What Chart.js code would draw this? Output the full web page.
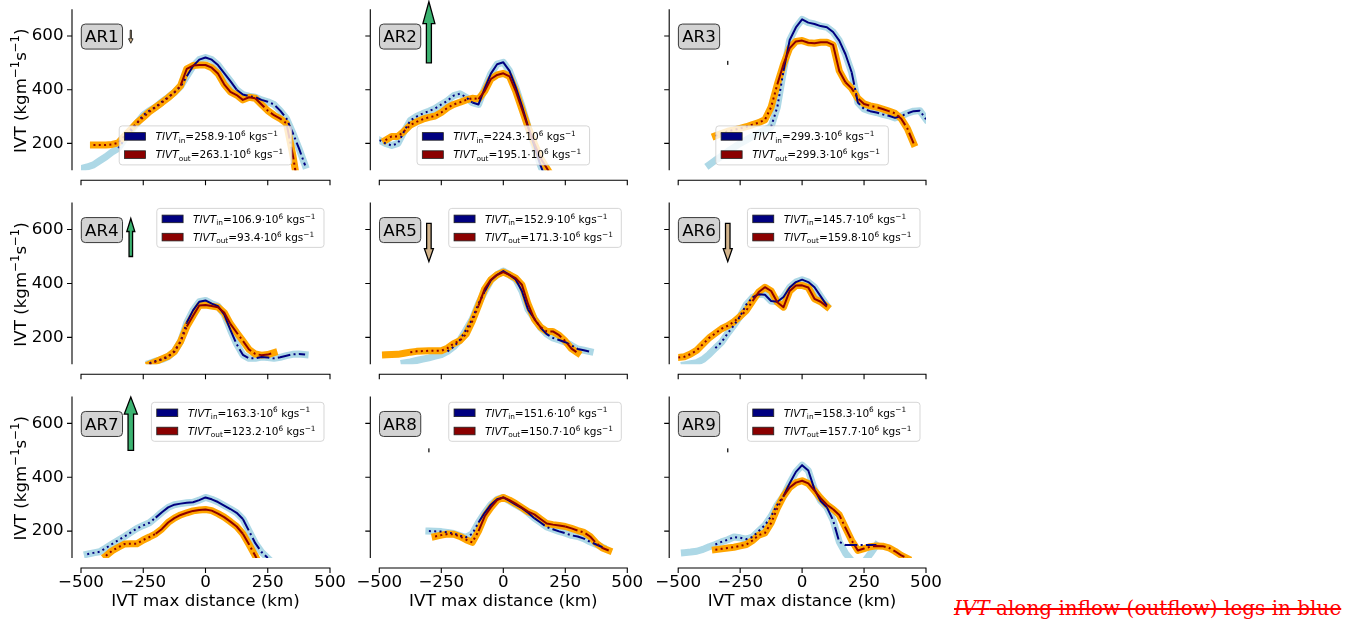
<!DOCTYPE html>
<html>
<head>
<meta charset="utf-8">
<script src="https://cdn.jsdelivr.net/npm/chart.js@4.4.1/dist/chart.umd.min.js"></script>
<style>
html,body{margin:0;padding:0;background:#fff;}
#wrap{position:relative;width:1356px;height:622px;overflow:hidden;background:#fff;}
#wrap canvas{position:absolute;left:0;top:0;}
#note{position:absolute;left:954px;top:598px;font-family:"DejaVu Serif";font-size:20px;line-height:20px;color:#ff0000;text-decoration:line-through;white-space:nowrap;}
</style>
</head>
<body>
<div id="wrap"><div id="note"><i>IVT</i> along inflow (outflow) legs in blue</div></div>
<script>
const _ = null;
// distance grid (km)
const dist = [-500,-475,-450,-425,-400,-375,-350,-325,-300,-275,-250,-225,-200,-175,-150,-125,-100,-75,-50,-25,0,25,50,75,100,125,150,175,200,225,250,275,300,325,350,375,400,425,450,475,500];
const xTicks = [-500,-250,0,250,500];
const xTickLabels = ['\u2212500','\u2212250','0','250','500'];
const yTicks = [200,400,600];
const yTickLabels = ['200','400','600'];
const arNames = ['AR1','AR2','AR3','AR4','AR5','AR6','AR7','AR8','AR9'];
const tivtIn  = [258.9,224.3,299.3,106.9,152.9,145.7,163.3,151.6,158.3];
const tivtOut = [263.1,195.1,299.3,93.4,171.3,159.8,123.2,150.7,157.7];
const arrowFrom = [622,500,500,500,623,623,500,500,500];
const arrowTo   = [573,728,500,641,481,481,698,500,500];

// IVT along inflow / outflow legs (kg m-1 s-1)
const ar1In  = [106,112,120,135,150,168,182,215,245,275,305,322,335,355,372,390,412,450,488,512,520,512,492,462,432,400,382,376,372,362,355,345,322,293,240,182,118,_,_,_,_];
const ar1Out = [_,_,194,194,194,196,202,228,252,277,297,318,335,352,370,390,415,478,490,492,492,482,460,420,392,380,362,372,368,345,322,305,292,275,160,20,_,_,_,_,_];
const ar2In  = [212,200,192,200,245,285,300,311,320,330,345,359,378,385,372,352,345,405,460,495,502,470,410,340,262,190,118,60,_,_,_,_,_,_,_,_,_,_,_,_,_];
const ar2Out = [_,212,226,226,245,268,280,290,297,302,315,333,345,353,362,368,365,395,440,455,461,450,395,328,260,200,145,108,70,_,_,_,_,_,_,_,_,_,_,_,_];
const ar3In  = [_,_,_,_,_,120,137,152,170,185,200,213,226,238,250,262,335,470,585,632,662,650,645,637,633,615,583,532,465,352,328,320,315,308,303,295,302,312,320,322,290];
const ar3Out = [_,_,_,_,_,_,228,237,245,250,256,262,270,277,288,335,420,495,555,580,583,575,573,577,577,567,470,428,405,368,347,340,335,328,320,312,292,255,200,_,_];
const ar4In  = [_,_,_,_,_,_,_,_,_,_,_,104,112,118,128,148,185,255,300,332,337,325,316,285,228,175,135,122,122,127,125,122,126,132,137,138,136,_,_,_,_];
const ar4Out = [_,_,_,_,_,_,_,_,_,_,_,100,110,120,130,147,185,240,280,318,320,316,312,292,250,218,187,155,138,134,136,143,_,_,_,_,_,_,_,_,_];
const ar5In  = [_,_,_,_,105,109,114,119,124,130,136,148,165,190,228,268,325,370,412,432,446,432,415,372,303,270,236,212,198,190,182,170,157,152,147,_,_,_,_,_,_];
const ar5Out = [_,135,136,137,141,145,148,149,150,150,150,160,177,188,212,260,318,380,414,432,442,432,420,395,323,268,238,222,222,208,186,158,142,_,_,_,_,_,_,_,_];
const ar6In  = [_,98,102,106,118,137,160,182,215,245,278,322,348,360,358,335,332,350,385,405,414,405,386,352,318,_,_,_,_,_,_,_,_,_,_,_,_,_,_,_,_];
const ar6Out = [125,128,138,152,175,198,215,232,243,258,278,300,335,368,386,372,330,312,372,392,393,385,343,332,314,_,_,_,_,_,_,_,_,_,_,_,_,_,_,_,_];
const ar7In  = [_,114,119,123,137,152,166,180,195,210,221,231,250,270,288,298,302,305,307,315,325,318,308,295,282,268,245,200,155,122,100,_,_,_,_,_,_,_,_,_,_];
const ar7Out = [_,_,_,_,108,127,140,152,153,153,167,178,190,208,232,248,260,268,275,278,280,276,265,252,235,217,190,150,108,60,_,_,_,_,_,_,_,_,_,_,_];
const ar8In  = [_,_,_,_,_,_,_,_,200,199,198,195,191,183,177,190,232,268,298,318,325,312,298,285,268,248,232,215,207,199,192,184,180,172,160,150,140,_,_,_,_];
const ar8Out = [_,_,_,_,_,_,_,_,_,180,185,189,188,180,168,158,200,255,288,315,325,315,302,287,272,262,245,228,224,221,217,210,202,195,180,155,137,128,_,_,_];
const ar9In  = [_,120,122,125,132,142,150,160,168,178,175,170,178,200,222,255,298,330,378,420,445,425,355,312,288,240,160,118,90,80,85,115,148,_,_,_,_,_,_,_,_];
const ar9InLine = [_,_,_,_,_,_,150,160,168,178,175,170,178,200,222,255,298,330,378,420,445,425,355,312,288,240,160,148,148,148,148,148,148,_,_,_,_,_,_,_,_];
const ar9Out = [_,_,_,_,_,_,131,134,137,140,145,150,165,185,193,230,285,330,362,380,387,377,350,322,298,281,260,212,165,128,135,142,145,144,138,125,110,98,_,_,_];

const panels = [
  {inBg: ar1In, inLine: ar1In, outBg: ar1Out, outLine: ar1Out},
  {inBg: ar2In, inLine: ar2In, outBg: ar2Out, outLine: ar2Out},
  {inBg: ar3In, inLine: ar3In, outBg: ar3Out, outLine: ar3Out},
  {inBg: ar4In, inLine: ar4In, outBg: ar4Out, outLine: ar4Out},
  {inBg: ar5In, inLine: ar5In, outBg: ar5Out, outLine: ar5Out},
  {inBg: ar6In, inLine: ar6In, outBg: ar6Out, outLine: ar6Out},
  {inBg: ar7In, inLine: ar7In, outBg: ar7Out, outLine: ar7Out},
  {inBg: ar8In, inLine: ar8In, outBg: ar8Out, outLine: ar8Out},
  {inBg: ar9In, inLine: ar9InLine, outBg: ar9Out, outLine: ar9Out}
];

// styles: [thin line start, dotted until, dash-dot from]
const lineStyles = [
  {in: [-350,-60,110],  out: [-450,-100,200]},
  {in: [-500,-110,999], out: [-475,-100,999]},
  {in: [-125,-75,190],  out: [-350,-80,170]},
  {in: [-225,-60,90],   out: [-225,-60,100]},
  {in: [-225,-65,80],   out: [-375,-80,120]},
  {in: [-350,-200,999], out: [-500,-200,999]},
  {in: [-475,-190,150], out: [-400,-190,140]},
  {in: [-300,-90,120],  out: [-275,-100,250]},
  {in: [-350,-70,100],  out: [-350,-70,120]}
];
const arrowX = -300;
const labelAt = [-416, 598];
const shaftW = [1.2, 5, 0, 3.5, 4.5, 4.5, 5.5, 0, 0];
const headW  = [4.5, 12, 0, 8, 9, 9, 13, 0, 0];
const headL  = [4.5, 22, 0, 13, 13, 13, 17, 0, 0];

const colL = [81, 379.3, 678.2], colR = [330, 627.3, 926];
const rowT = [9.2, 202.6, 396.5], rowB = [170.2, 364.3, 558];
const FONT = 'DejaVu Sans';
const DOT = [2, 3.3], DASHDOT = [12.8, 3.3, 2, 3.3];
Chart.defaults.font.family = FONT;

function pts(arr){ return arr.map((v,k)=>({x: dist[k], y: v})); }
function thin(arr, start){ return arr.map((v,k)=> dist[k] < start ? null : v); }
function segDash(s){
  return (ctx) => {
    const x0 = ctx.p0.parsed.x, x1 = ctx.p1.parsed.x;
    if (x1 <= s[1]) return DOT;
    if (x0 >= s[2]) return DASHDOT;
    return [];
  };
}

function mathParts(sub, v){
  const F = 10.5, S = 7.35;
  return [
    {t:'TIVT', f:`italic ${F}px "${FONT}"`, dy:0},
    {t:sub, f:`${S}px "${FONT}"`, dy:2.3},
    {t:'=' + v.toFixed(1) + '\u00b710', f:`${F}px "${FONT}"`, dy:0},
    {t:'6', f:`${S}px "${FONT}"`, dy:-4.2},
    {t:' kgs', f:`${F}px "${FONT}"`, dy:0},
    {t:'\u22121', f:`${S}px "${FONT}"`, dy:-4.2}
  ];
}
const yTitleParts = [
  {t:'IVT (kgm', f:`16.7px "${FONT}"`, dy:0},
  {t:'\u22121', f:`11.7px "${FONT}"`, dy:-6.8},
  {t:'s', f:`16.7px "${FONT}"`, dy:0},
  {t:'\u22121', f:`11.7px "${FONT}"`, dy:-6.8},
  {t:')', f:`16.7px "${FONT}"`, dy:0}
];
function partsWidth(ctx, parts){
  let w = 0;
  parts.forEach(p => { ctx.font = p.f; w += ctx.measureText(p.t).width; });
  return w;
}
function drawParts(ctx, parts, x, y){
  parts.forEach(p => { ctx.font = p.f; ctx.fillText(p.t, x, y + p.dy); x += ctx.measureText(p.t).width; });
}

function makeDeco(i){
  const r = Math.floor(i/3), c = i % 3;
  return {
    id: 'deco' + i,
    afterDraw(chart){
      const ctx = chart.ctx, a = chart.chartArea, xs = chart.scales.x, ys = chart.scales.y;
      ctx.save();
      // offset spines + ticks
      const sx = a.left - 9, sy = a.bottom + 10;
      ctx.strokeStyle = '#000'; ctx.lineWidth = 1.1; ctx.lineCap = 'butt'; ctx.setLineDash([]);
      ctx.beginPath();
      ctx.moveTo(sx, a.top); ctx.lineTo(sx, a.bottom);
      ctx.moveTo(a.left - 0.5, sy); ctx.lineTo(a.right + 0.5, sy);
      yTicks.forEach(v => { const y = ys.getPixelForValue(v); ctx.moveTo(sx - 5, y); ctx.lineTo(sx, y); });
      xTicks.forEach(v => { const x = xs.getPixelForValue(v); ctx.moveTo(x, sy); ctx.lineTo(x, sy + 5); });
      ctx.stroke();

      // y axis title with superscripts (first column)
      if (c === 0) {
        ctx.save();
        ctx.translate(20, (a.top + a.bottom) / 2 + 1);
        ctx.rotate(-Math.PI / 2);
        ctx.fillStyle = '#000'; ctx.textAlign = 'left'; ctx.textBaseline = 'alphabetic';
        const tw0 = partsWidth(ctx, yTitleParts);
        drawParts(ctx, yTitleParts, -tw0 / 2, 6.1);
        ctx.restore();
      }

      // AR label box
      const lx = xs.getPixelForValue(labelAt[0]), ly = ys.getPixelForValue(labelAt[1]);
      ctx.font = `16.7px "${FONT}"`;
      const tw = ctx.measureText(arNames[i]).width;
      const bw = tw + 7.6, bh = 25;
      ctx.beginPath(); ctx.roundRect(lx - bw/2, ly - bh/2, bw, bh, 4);
      ctx.fillStyle = '#d3d3d3'; ctx.fill();
      ctx.strokeStyle = '#3a3a3a'; ctx.lineWidth = 1; ctx.stroke();
      ctx.fillStyle = '#000'; ctx.textAlign = 'center'; ctx.textBaseline = 'alphabetic';
      ctx.fillText(arNames[i], lx, ly + 5.6);

      // arrow
      const ax = xs.getPixelForValue(arrowX);
      const y0 = ys.getPixelForValue(arrowFrom[i]), y1 = ys.getPixelForValue(arrowTo[i]);
      if (Math.abs(y1 - y0) < 1) {
        ctx.fillStyle = '#000';
        ctx.fillRect(ax - 0.6, y0 - 2, 1.2, 4);
      } else {
        const dir = Math.sign(y1 - y0);
        const hl = Math.min(headL[i], Math.abs(y1 - y0));
        const yn = y1 - dir * hl, w = shaftW[i] / 2, hw = headW[i] / 2;
        ctx.beginPath();
        ctx.moveTo(ax - w, y0); ctx.lineTo(ax - w, yn); ctx.lineTo(ax - hw, yn); ctx.lineTo(ax, y1);
        ctx.lineTo(ax + hw, yn); ctx.lineTo(ax + w, yn); ctx.lineTo(ax + w, y0); ctx.closePath();
        ctx.fillStyle = arrowTo[i] > arrowFrom[i] ? '#3cb371' : '#d2b48c';
        ctx.fill();
        ctx.strokeStyle = '#000'; ctx.lineWidth = shaftW[i] < 2 ? 0.8 : 1.3; ctx.lineJoin = 'miter'; ctx.stroke();
      }

      // legend
      const pIn = mathParts('in', tivtIn[i]), pOut = mathParts('out', tivtOut[i]);
      const tw2 = Math.max(partsWidth(ctx, pIn), partsWidth(ctx, pOut));
      const lw = 5.3 + 21 + 10 + tw2 + 8.5, lh = 39;
      let bx, by;
      if (r === 0) { bx = (a.left + a.right)/2 - lw/2; by = a.bottom - 5.3 - lh; }
      else { bx = a.right - 6 - lw; by = a.top + 5.8; }
      ctx.beginPath(); ctx.roundRect(bx, by, lw, lh, 3);
      ctx.fillStyle = 'rgba(255,255,255,0.8)'; ctx.fill();
      ctx.strokeStyle = 'rgba(204,204,204,0.8)'; ctx.lineWidth = 1; ctx.stroke();
      const rows = [{col:'#000080', p:pIn, y: by + 10.5}, {col:'#8b0000', p:pOut, y: by + 28.7}];
      ctx.textAlign = 'left'; ctx.textBaseline = 'alphabetic';
      rows.forEach(rw => {
        ctx.fillStyle = rw.col;
        ctx.fillRect(bx + 5.3, rw.y - 3.8, 21, 7.6);
        ctx.strokeStyle = '#222'; ctx.lineWidth = 0.8;
        ctx.strokeRect(bx + 5.3, rw.y - 3.8, 21, 7.6);
        ctx.fillStyle = '#000';
        drawParts(ctx, rw.p, bx + 36.3, rw.y + 3.8);
      });
      ctx.restore();
    }
  };
}

const wrap = document.getElementById('wrap');
panels.forEach((p, i) => {
  const r = Math.floor(i/3), c = i % 3;
  const st = lineStyles[i];
  const cv = document.createElement('canvas');
  cv.width = 1356; cv.height = 622;
  wrap.appendChild(cv);
  const common = {pointRadius: 0, pointHoverRadius: 0, fill: false, tension: 0, spanGaps: false, clip: 0};
  const tickFont = {family: FONT, size: 16.7};
  new Chart(cv, {
    type: 'line',
    data: {
      datasets: [
        Object.assign({label: 'in bg', data: pts(p.inBg), borderColor: '#add8e6', borderWidth: 7, order: 4, borderCapStyle: 'square', borderJoinStyle: 'round'}, common),
        Object.assign({label: 'out bg', data: pts(p.outBg), borderColor: '#ffa500', borderWidth: 7, order: 3, borderCapStyle: 'square', borderJoinStyle: 'round'}, common),
        Object.assign({label: 'in', data: pts(thin(p.inLine, st.in[0])), borderColor: '#000080', borderWidth: 2, order: 2, borderCapStyle: 'butt', borderJoinStyle: 'round', segment: {borderDash: segDash(st.in)}}, common),
        Object.assign({label: 'out', data: pts(thin(p.outLine, st.out[0])), borderColor: '#8b0000', borderWidth: 2, order: 1, borderCapStyle: 'butt', borderJoinStyle: 'round', segment: {borderDash: segDash(st.out)}}, common)
      ]
    },
    options: {
      responsive: false, animation: false, devicePixelRatio: 1, events: [],
      layout: {padding: {left: c === 0 ? 0 : colL[c], right: 1356 - colR[c], top: rowT[r], bottom: r === 2 ? 0 : 622 - rowB[r]}},
      plugins: {legend: {display: false}, tooltip: {enabled: false}, title: {display: false}},
      scales: {
        x: {
          type: 'linear', min: -500, max: 500, display: r === 2,
          afterBuildTicks: s => { s.ticks = xTicks.map(v => ({value: v})); },
          afterFit: s => { if (r === 2) { s.height = 622 - rowB[2]; } else { s.height = 0; } s.paddingLeft = 0; s.paddingRight = 0; s.paddingTop = 0; s.paddingBottom = 0; },
          ticks: {callback: v => xTickLabels[xTicks.indexOf(v)], font: tickFont, color: '#000', padding: 14.5, maxRotation: 0, minRotation: 0, autoSkip: false},
          grid: {display: false, drawTicks: false}, border: {display: false},
          title: {display: true, text: 'IVT max distance (km)', font: tickFont, color: '#000', padding: {top: 0, bottom: 10.4}}
        },
        y: {
          type: 'linear', min: 100, max: 700, display: c === 0,
          afterBuildTicks: s => { s.ticks = yTicks.map(v => ({value: v})); },
          afterFit: s => { if (c === 0) { s.width = colL[0]; } else { s.width = 0; } s.paddingLeft = 0; s.paddingRight = 0; s.paddingTop = 0; s.paddingBottom = 0; },
          ticks: {callback: v => yTickLabels[yTicks.indexOf(v)], font: tickFont, color: '#000', padding: 17.5, autoSkip: false},
          grid: {display: false, drawTicks: false}, border: {display: false},
          title: {display: false}
        }
      }
    },
    plugins: [makeDeco(i)]
  });
});
</script>
</body>
</html>
